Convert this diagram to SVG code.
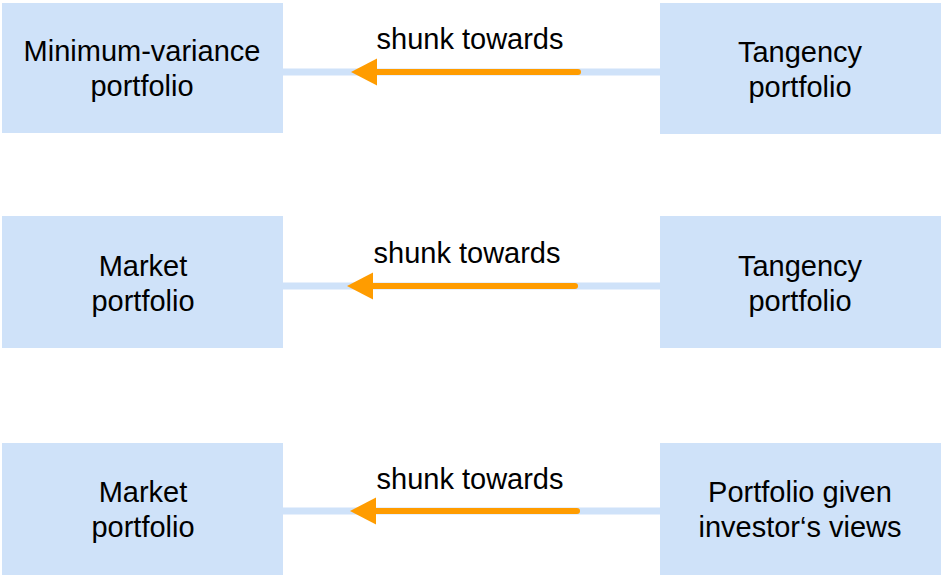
<svg xmlns="http://www.w3.org/2000/svg" width="941" height="575" viewBox="0 0 941 575">
<style>
.box{fill:#cfe2f9}
.t{font-family:"Liberation Sans",Arial,sans-serif;font-size:29px;fill:#000;text-anchor:middle}
.link{stroke:#cfe2f9;stroke-width:7;fill:none}
.arr{stroke:#ff9c00;stroke-width:6;stroke-linecap:round;fill:none}
.head{fill:#ff9c00}
</style>
<rect width="941" height="575" fill="#fff"/>
<g id="connectors">
<line class="link" x1="283" y1="72" x2="660" y2="72"/>
<line class="link" x1="283" y1="286" x2="660" y2="286"/>
<line class="link" x1="283" y1="511" x2="660" y2="511"/>
<line class="arr" x1="372" y1="72" x2="578" y2="72"/>
<polygon class="head" points="351,72 377,58.5 377,85.5"/>
<text class="t" x="470" y="49">shunk towards</text>
<line class="arr" x1="368" y1="286" x2="575" y2="286"/>
<polygon class="head" points="347,286 373,272.5 373,299.5"/>
<text class="t" x="467" y="263">shunk towards</text>
<line class="arr" x1="371" y1="511" x2="577" y2="511"/>
<polygon class="head" points="350,511 376,497.5 376,524.5"/>
<text class="t" x="470" y="489">shunk towards</text>
</g>
<g id="min-var">
<rect class="box" x="2" y="3" width="281" height="130"/>
<text class="t" x="142" y="61">Minimum-variance</text>
<text class="t" x="142" y="96">portfolio</text>
</g>
<g id="tangency1">
<rect class="box" x="660" y="3" width="281" height="131"/>
<text class="t" x="800" y="62">Tangency</text>
<text class="t" x="800" y="97">portfolio</text>
</g>
<g id="market1">
<rect class="box" x="2" y="216" width="281" height="132"/>
<text class="t" x="143" y="276">Market</text>
<text class="t" x="143" y="311">portfolio</text>
</g>
<g id="tangency2">
<rect class="box" x="660" y="216" width="281" height="132"/>
<text class="t" x="800" y="276">Tangency</text>
<text class="t" x="800" y="311">portfolio</text>
</g>
<g id="market2">
<rect class="box" x="2" y="443" width="281" height="132"/>
<text class="t" x="143" y="502">Market</text>
<text class="t" x="143" y="537">portfolio</text>
</g>
<g id="views">
<rect class="box" x="660" y="443" width="281" height="132"/>
<text class="t" x="800" y="502">Portfolio given</text>
<text class="t" x="800" y="537">investor‘s views</text>
</g>
</svg>
